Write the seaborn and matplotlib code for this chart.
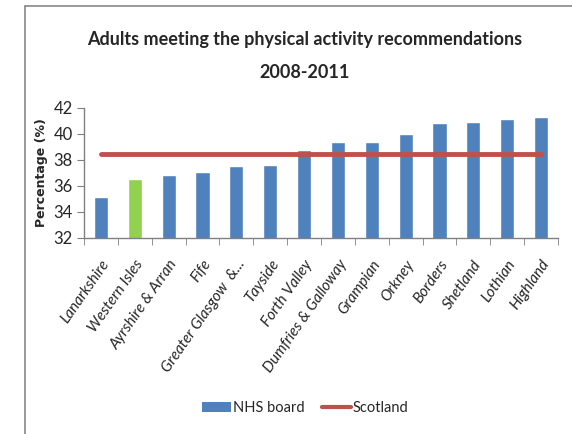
import matplotlib
matplotlib.use("Agg")
import matplotlib.pyplot as plt
import seaborn as sns
import pandas as pd
from matplotlib.lines import Line2D
from matplotlib.patches import Patch

boards = ["Lanarkshire", "Western Isles", "Ayrshire & Arran", "Fife", "Greater Glasgow  &...",
          "Tayside", "Forth Valley", "Dumfries & Galloway", "Grampian", "Orkney",
          "Borders", "Shetland", "Lothian", "Highland"]
values = [35.15, 36.55, 36.87, 37.1, 37.5, 37.6, 38.8, 39.35, 39.35, 40.0,
          40.85, 40.95, 41.15, 41.3]
scotland = 38.45
yticks = [32, 34, 36, 38, 40, 42]

BLUE = "#4F81BD"
GREEN = "#92D050"
RED = "#C0504D"
palette = [GREEN if b == "Western Isles" else BLUE for b in boards]

sns.set_style("white")
plt.rcParams["font.family"] = ["Lato", "DejaVu Sans"]

fig = plt.figure(figsize=(5.72, 4.34), dpi=100)
ax = fig.add_axes([84 / 572, 1 - 238 / 434, 474 / 572, 130 / 434])

df = pd.DataFrame({"board": boards, "value": values})
sns.barplot(data=df, x="board", y="value", hue="board", palette=palette,
            width=0.42, legend=False, ax=ax, saturation=1)
line_df = pd.DataFrame({"x": list(range(len(boards))), "y": [scotland] * len(boards)})
sns.lineplot(data=line_df, x="x", y="y", color=RED, linewidth=3.5, ax=ax)

ax.set_ylim(32, 42)
ax.set_xlim(-0.5, len(boards) - 0.5)
ax.set_yticks(yticks)
ax.set_yticklabels([str(t) for t in yticks], fontsize=12)
ax.set_xticks(range(len(boards)))
ax.set_xticklabels(boards, rotation=55, ha="right", rotation_mode="anchor",
                   fontsize=11, style="italic")
ax.tick_params(axis="x", length=0, pad=14)
ax.set_xticks([i - 0.5 for i in range(len(boards) + 1)], minor=True)
ax.tick_params(axis="x", which="minor", length=5, direction="out", color="#808080", bottom=True)
ax.tick_params(axis="y", length=5, direction="out", color="#808080", left=True, pad=3)
ax.set_xlabel("")
ax.set_ylabel("Percentage (%)", fontsize=9, fontweight="bold", family="DejaVu Sans")
ax.yaxis.set_label_coords((48 - 84) / 474, 0.5)
for s in ["top", "right"]:
    ax.spines[s].set_visible(False)
for s in ["left", "bottom"]:
    ax.spines[s].set_color("#808080")
    ax.spines[s].set_linewidth(1)

fig.text(305 / 572, 1 - 40 / 434, "Adults meeting the physical activity recommendations",
         ha="center", va="center", fontsize=13, fontweight="bold")
fig.text(305 / 572, 1 - 72 / 434, "2008-2011", ha="center", va="center",
         fontsize=13, fontweight="bold")

handles = [Patch(facecolor=BLUE, edgecolor="none", label="NHS board"),
           Line2D([0], [0], color=RED, linewidth=3, label="Scotland")]
fig.legend(handles=handles, loc="center", bbox_to_anchor=(305 / 572, 1 - 408 / 434),
           ncol=2, frameon=False, fontsize=10.5, handlelength=2.0, handletextpad=0.1,
           columnspacing=1.2)

# chart border
fig.add_artist(Line2D([25 / 572, 25 / 572], [0, 1 - 6 / 434], color="#888888", lw=1.2,
                      transform=fig.transFigure))
fig.add_artist(Line2D([25 / 572, 1], [1 - 6 / 434, 1 - 6 / 434], color="#888888", lw=1.2,
                      transform=fig.transFigure))

fig.savefig("out.png", dpi=100)
